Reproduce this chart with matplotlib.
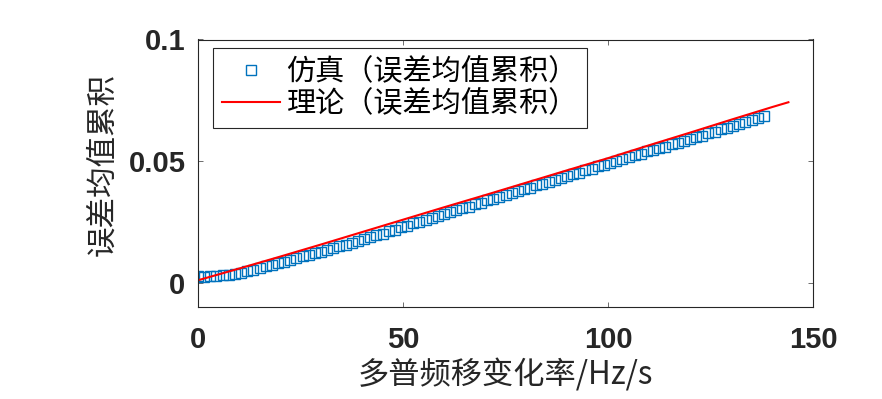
import matplotlib
matplotlib.use("Agg")
import matplotlib.pyplot as plt

# ---- data ----
sim_x = [0, 1.5, 3, 4.5, 6, 7.5, 9, 10.5, 12, 13.5, 15, 16.5, 18, 19.5, 21, 22.5,
         24, 25.5, 27, 28.5, 30, 31.5, 33, 34.5, 36, 37.5, 39, 40.5, 42, 43.5, 45,
         46.5, 48, 49.5, 51, 52.5, 54, 55.5, 57, 58.5, 60, 61.5, 63, 64.5, 66, 67.5,
         69, 70.5, 72, 73.5, 75, 76.5, 78, 79.5, 81, 82.5, 84, 85.5, 87, 88.5, 90,
         91.5, 93, 94.5, 96, 97.5, 99, 100.5, 102, 103.5, 105, 106.5, 108, 109.5,
         111, 112.5, 114, 115.5, 117, 118.5, 120, 121.5, 123, 124.5, 126, 127.5,
         129, 130.5, 132, 133.5, 135, 136.5, 138]
sim_y = [0.0026, 0.0023, 0.0028, 0.0027, 0.0031, 0.0030, 0.0035, 0.0039, 0.0047, 0.0053,
         0.0059, 0.0068, 0.0073, 0.0081, 0.0087, 0.0095, 0.0100, 0.0109, 0.0114, 0.0122,
         0.0127, 0.0136, 0.0141, 0.0150, 0.0155, 0.0165, 0.0171, 0.0181, 0.0187, 0.0196,
         0.0202, 0.0212, 0.0218, 0.0228, 0.0234, 0.0244, 0.0250, 0.0259, 0.0265, 0.0275,
         0.0281, 0.0291, 0.0297, 0.0307, 0.0313, 0.0322, 0.0328, 0.0338, 0.0344, 0.0354,
         0.0360, 0.0369, 0.0375, 0.0385, 0.0391, 0.0401, 0.0406, 0.0416, 0.0422, 0.0432,
         0.0438, 0.0447, 0.0453, 0.0463, 0.0469, 0.0479, 0.0484, 0.0494, 0.0500, 0.0510,
         0.0516, 0.0525, 0.0531, 0.0540, 0.0546, 0.0555, 0.0560, 0.0570, 0.0575, 0.0584,
         0.0590, 0.0599, 0.0605, 0.0614, 0.0620, 0.0630, 0.0636, 0.0646, 0.0652, 0.0662,
         0.0668, 0.0678, 0.0686]
theo_x = [0, 10, 20, 30, 40, 50, 60, 70, 80, 90, 100, 110, 120, 130, 140, 144]
theo_y = [0.0010, 0.0058, 0.0107, 0.0157, 0.0208, 0.0259, 0.0310, 0.0360, 0.0411,
          0.0462, 0.0512, 0.0565, 0.0617, 0.0670, 0.0722, 0.0742]
x_ticks = [0, 50, 100, 150]
y_ticks = [0, 0.05, 0.1]
y_tick_labels = ["0", "0.05", "0.1"]
label_sim = "仿真（误差均值累积）"
label_theo = "理论（误差均值累积）"
x_label = "多普频移变化率/Hz/s"
y_label = "误差均值累积"

CJK = ["Noto Sans CJK SC", "DejaVu Sans"]

fig = plt.figure(figsize=(8.82, 3.99), dpi=100)
ax = fig.add_axes([198 / 882, (399 - 307) / 399, 615 / 882, 267.5 / 399])

ax.plot(sim_x, sim_y, linestyle="none", marker="s", markersize=7.5,
        markerfacecolor="none", markeredgecolor="#0072BD", markeredgewidth=1.0,
        label=label_sim)
ax.plot(theo_x, theo_y, color="#FF0000", linewidth=1.5, label=label_theo)

ax.set_xlim(0, 150)
ax.set_ylim(-0.01, 0.1)
ax.set_xticks(x_ticks)
ax.set_xticklabels([str(v) for v in x_ticks])
ax.set_yticks(y_ticks)
ax.set_yticklabels(y_tick_labels)

for lab in ax.get_xticklabels() + ax.get_yticklabels():
    lab.set_family("Liberation Sans")
    lab.set_fontweight("bold")
    lab.set_fontsize(21)
    lab.set_color("#262626")

ax.tick_params(axis="both", direction="in", length=3.6, width=0.6,
               color="#555555", top=True, right=True)
ax.tick_params(axis="x", pad=14)
ax.tick_params(axis="y", pad=9)
for s in ax.spines.values():
    s.set_color("#262626")
    s.set_linewidth(0.8)

ax.set_xlabel(x_label, family=CJK, fontsize=22.5, color="#262626", va="center")
ax.xaxis.set_label_coords(0.5, (307 - 375) / 267.5)
ax.set_ylabel(y_label, family=CJK, fontsize=22, color="#262626", va="center")
ax.yaxis.set_label_coords((103 - 198) / 615, (307 - 165) / 267.5)

leg = ax.legend(loc="upper left", bbox_to_anchor=((213 - 198) / 615, (307 - 48) / 267.5),
                borderaxespad=0, prop={"family": CJK, "size": 21},
                fancybox=False, framealpha=1, edgecolor="#262626",
                handlelength=2.0, handletextpad=0.22, borderpad=0.3,
                labelspacing=0.08)
leg.get_frame().set_linewidth(0.8)

fig.savefig("out.png", dpi=100)
